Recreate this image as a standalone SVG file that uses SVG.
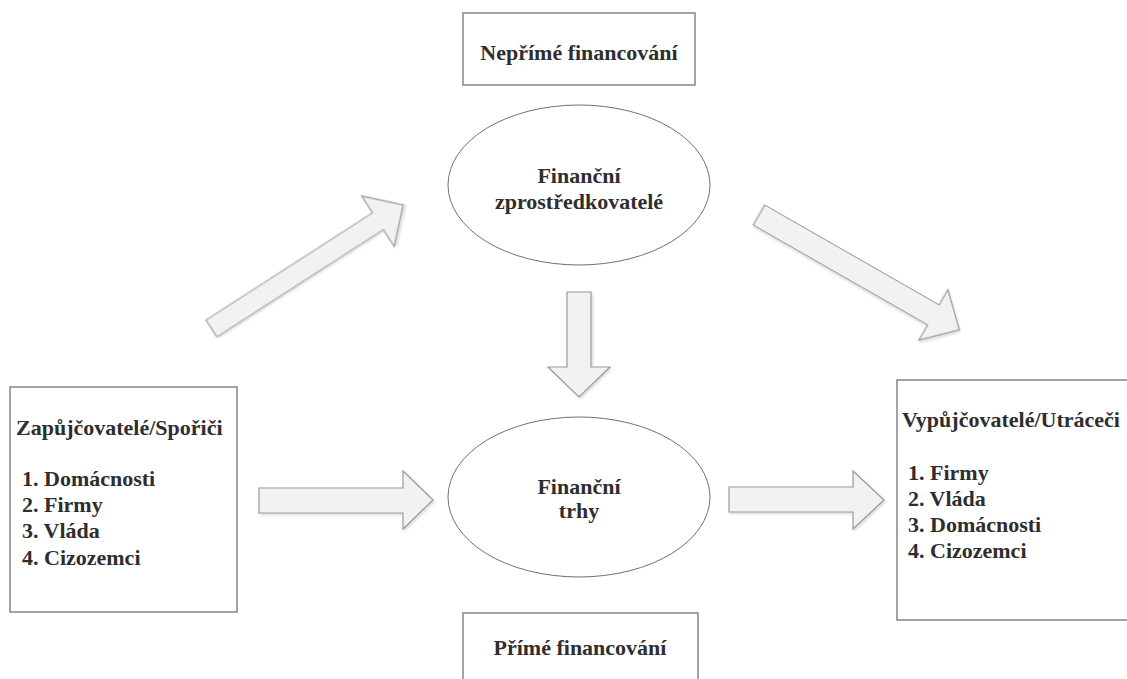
<svg xmlns="http://www.w3.org/2000/svg" width="1127" height="679" viewBox="0 0 1127 679">
<defs>
<filter id="sh" x="-10%" y="-10%" width="130%" height="130%">
<feDropShadow dx="1.5" dy="1.5" stdDeviation="1.2" flood-color="#000" flood-opacity="0.15"/>
</filter>
</defs>
<style>
text{font-family:"Liberation Serif","Times New Roman",serif;font-weight:bold;font-size:22px;fill:#2e2e2e}
.box{fill:#fff;stroke:#858585;stroke-width:1.5}
.ell{fill:#fff;stroke:#707070;stroke-width:1}
.arr{fill:#f2f2f2;stroke:#9a9a9a;stroke-width:1.2;stroke-linejoin:miter;filter:url(#sh)}
.c{text-anchor:middle}
</style>
<rect width="1127" height="679" fill="#fff"/>
<g id="connectors">
  <polygon class="arr" transform="translate(211.5,328.5) rotate(-32.8)" points="0,-10 198,-10 198,-30 228,0 198,30 198,10 0,10"/>
  <polygon class="arr" transform="translate(759,215) rotate(29.8)" points="0,-11.5 201,-11.5 201,-29 231,0 201,29 201,11.5 0,11.5"/>
  <polygon class="arr" points="567,292 591,292 591,367 610,367 579,397 548,367 567,367"/>
  <polygon class="arr" points="259,488 403,488 403,471 433,500 403,529 403,513 259,513"/>
  <polygon class="arr" points="729,487 853,487 853,471 884,500 853,529 853,512 729,512"/>
</g>
<g id="neprime">
  <rect class="box" x="463" y="13" width="232" height="72"/>
  <text class="c" x="579" y="60">Nepřímé financování</text>
</g>
<g id="zprostredkovatele">
  <ellipse class="ell" cx="579" cy="185" rx="131" ry="80"/>
  <text class="c" x="579" y="183">Finanční</text>
  <text class="c" x="579" y="209">zprostředkovatelé</text>
</g>
<g id="trhy">
  <ellipse class="ell" cx="579" cy="497" rx="131" ry="80"/>
  <text class="c" x="579" y="494">Finanční</text>
  <text class="c" x="579" y="518">trhy</text>
</g>
<g id="zapujcovatele">
  <rect class="box" x="10" y="387" width="227" height="225"/>
  <text x="16" y="435">Zapůjčovatelé/Spořiči</text>
  <text x="22" y="486">1. Domácnosti</text>
  <text x="22" y="512">2. Firmy</text>
  <text x="22" y="538">3. Vláda</text>
  <text x="22" y="565">4. Cizozemci</text>
</g>
<g id="vypujcovatele">
  <rect class="box" x="897" y="380" width="240" height="240"/>
  <text x="902" y="427">Vypůjčovatelé/Utráceči</text>
  <text x="908" y="480">1. Firmy</text>
  <text x="908" y="506">2. Vláda</text>
  <text x="908" y="532">3. Domácnosti</text>
  <text x="908" y="558">4. Cizozemci</text>
</g>
<g id="prime">
  <rect class="box" x="463" y="613" width="235" height="80"/>
  <text class="c" x="580" y="655">Přímé financování</text>
</g>
</svg>
